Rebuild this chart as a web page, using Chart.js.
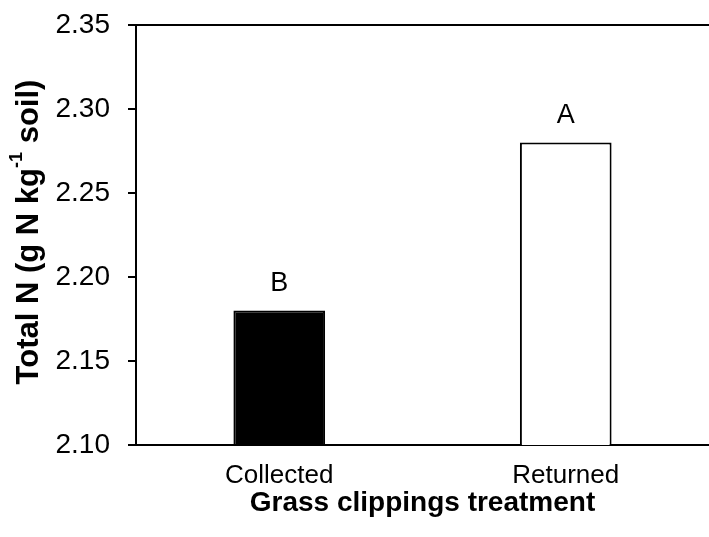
<!DOCTYPE html>
<html>
<head>
<meta charset="utf-8">
<script src="https://cdn.jsdelivr.net/npm/chart.js@4"></script>
<style>
  html, body { margin: 0; padding: 0; background: #fff; }
  #wrap { width: 709px; height: 537px; }
</style>
</head>
<body>
<div id="wrap"><canvas id="myChart"></canvas></div>
<script>
const categories = ['Collected', 'Returned']
const totalN = [2.18, 2.28]
const letters = ['B', 'A']
const barColors = ['#000000', '#ffffff']
const yTicks = [2.10, 2.15, 2.20, 2.25, 2.30, 2.35]

const FONT = "'Liberation Sans', Arial, sans-serif"

// rotated y title with a superscript -1, plus the A/B letters and the top frame line
const extras = {
    id: 'extras',
    afterDraw(chart) {
        const ctx = chart.ctx
        const area = chart.chartArea
        ctx.save()

        // top frame line
        ctx.strokeStyle = '#000'
        ctx.lineWidth = 2
        ctx.beginPath()
        ctx.moveTo(area.left - 1, area.top)
        ctx.lineTo(area.right, area.top)
        ctx.stroke()

        // letters over the bars
        const meta = chart.getDatasetMeta(0)
        ctx.fillStyle = '#000'
        ctx.font = '27px ' + FONT
        ctx.textAlign = 'center'
        ctx.textBaseline = 'middle'
        meta.data.forEach((bar, i) => {
            ctx.fillText(letters[i], bar.x, bar.y - 27)
        })

        // y axis title
        const parts = [
            { t: 'Total N (g N kg', size: 31, dy: 0 },
            { t: '-1', size: 18, dy: -12 },
            { t: ' soil)', size: 31, dy: 0 }
        ]
        let total = 0
        parts.forEach(p => {
            ctx.font = 'bold ' + p.size + 'px ' + FONT
            p.w = ctx.measureText(p.t).width
            total += p.w
        })
        ctx.translate(28, 232)
        ctx.rotate(-Math.PI / 2)
        ctx.textAlign = 'left'
        ctx.textBaseline = 'middle'
        let x = -total / 2
        parts.forEach(p => {
            ctx.font = 'bold ' + p.size + 'px ' + FONT
            ctx.fillText(p.t, x, p.dy + 1)
            x += p.w
        })
        ctx.restore()
    }
}

const chartEle = document.getElementById('myChart')
const chart = new Chart(chartEle, {
    type: 'bar',
    data: {
        labels: categories,
        datasets: [{
            data: totalN,
            backgroundColor: barColors,
            borderColor: '#000',
            borderWidth: 2,
            borderSkipped: false,
            barPercentage: 0.32,
            categoryPercentage: 1
        }]
    },
    options: {
        responsive: true,
        maintainAspectRatio: false,
        animation: false,
        layout: { padding: { top: 25, right: 0, left: 0, bottom: 0 } },
        plugins: {
            legend: { display: false },
            tooltip: { enabled: false }
        },
        scales: {
            x: {
                grid: { display: false, drawTicks: false },
                border: { display: true, color: '#000', width: 2 },
                ticks: { color: '#000', font: { family: FONT, size: 26 }, padding: 15 },
                title: {
                    display: true,
                    text: 'Grass clippings treatment',
                    color: '#000',
                    font: { family: FONT, size: 28, weight: 'bold' },
                    padding: { top: 0, bottom: 17 }
                },
                afterFit(scale) { scale.height = 92 }
            },
            y: {
                min: 2.10,
                max: 2.35,
                afterBuildTicks(scale) { scale.ticks = yTicks.map(v => ({ value: v })) },
                grid: { display: true, drawOnChartArea: false, drawTicks: true, tickLength: 8, color: '#000', lineWidth: 2 },
                border: { display: true, color: '#000', width: 2 },
                ticks: {
                    color: '#000',
                    font: { family: FONT, size: 28 },
                    padding: 18,
                    callback: v => Number(v).toFixed(2)
                },
                afterFit(scale) {
                    scale.width = 136
                    scale.paddingTop = 0
                    scale.paddingBottom = 0
                }
            }
        }
    },
    plugins: [extras]
})
</script>
</body>
</html>
